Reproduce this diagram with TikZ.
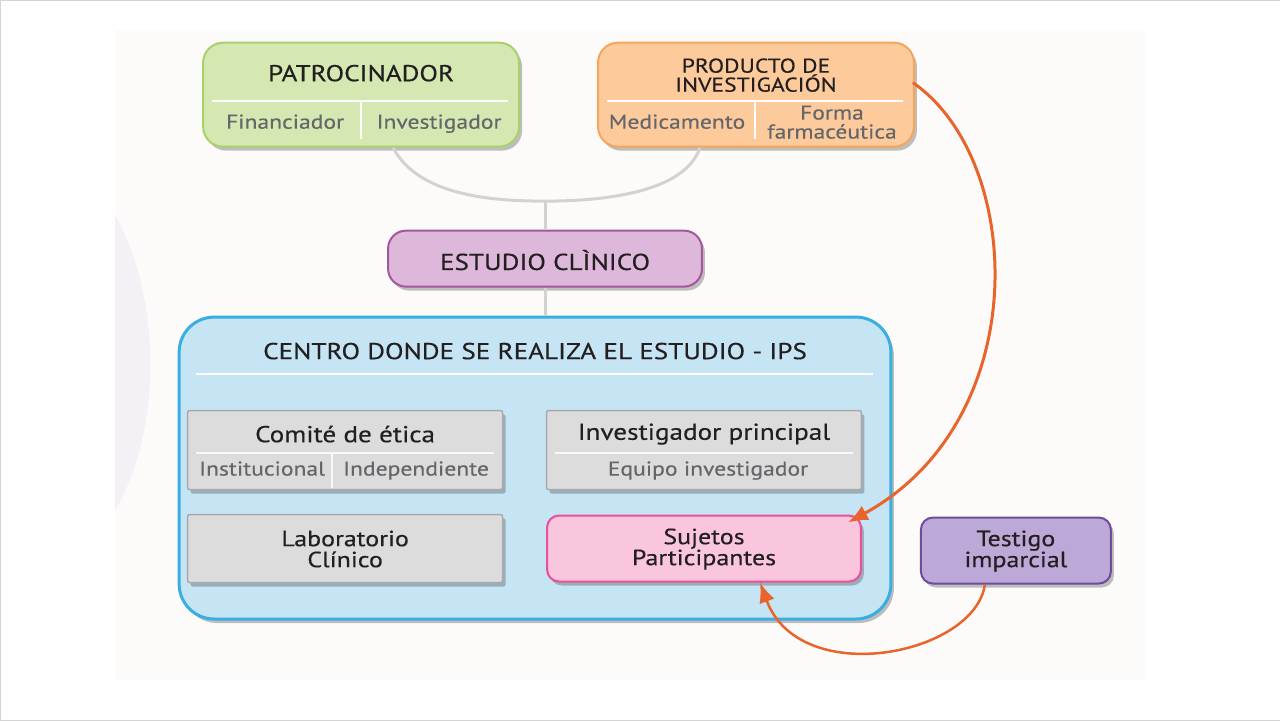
\documentclass[tikz,border=0pt]{standalone}
\usepackage{fontspec}
\setmainfont{PT Sans}[FakeStretch=1.18,FakeBold=0.4]
\usepackage{tikz}
\usetikzlibrary{arrows.meta,shadows,calc}
\definecolor{paper}{HTML}{FCFBF9}
\definecolor{frame}{HTML}{D4D4D4}
\definecolor{lens}{HTML}{F4F0F6}
\definecolor{txtdark}{HTML}{231F20}
\definecolor{txtgray}{HTML}{65666A}
\definecolor{patfill}{HTML}{D5E8B2}
\definecolor{patline}{HTML}{A9D16B}
\definecolor{prodfill}{HTML}{FDCB9B}
\definecolor{prodline}{HTML}{F6A55C}
\definecolor{estfill}{HTML}{DDB8DA}
\definecolor{estline}{HTML}{A5569F}
\definecolor{ctrfill}{HTML}{C5E4F4}
\definecolor{ctrline}{HTML}{3BAEE1}
\definecolor{grayfill}{HTML}{DCDCDC}
\definecolor{grayline}{HTML}{A9A9A9}
\definecolor{sujfill}{HTML}{F9C6DE}
\definecolor{sujline}{HTML}{EC4F97}
\definecolor{tesfill}{HTML}{BCA9D7}
\definecolor{tesline}{HTML}{6B4D9D}
\definecolor{linkgray}{HTML}{D2D2D2}
\definecolor{hookorange}{HTML}{E9642B}

\begin{document}
\begin{tikzpicture}[x=1pt,y=-1pt,
  box/.style={line width=2pt,inner sep=0pt,align=center,
    drop shadow={shadow xshift=3pt,shadow yshift=-4pt,opacity=0.35,fill=black!70}},
  title/.style={font=\fontsize{23}{23}\selectfont,text=txtdark,align=center},
  sub/.style={font=\fontsize{20}{20}\selectfont,text=txtgray,align=center,text height=15pt,text depth=4pt},
  sep/.style={draw=white,line width=1.5pt},
  link/.style={draw=linkgray,line width=3pt},
  hook/.style={draw=hookorange,line width=3pt,-{Latex[length=20pt,width=16pt]}}]
% page
\path[fill=white,draw=frame] (0,0) rectangle (1280,720);
\fill[paper] (115,30) rectangle (1145,680);
\fill[lens] (115,215) .. controls (162,300) and (162,430) .. (115,510) -- cycle;
\useasboundingbox (0,0) rectangle (1280,720);

% sponsor and product
\node[box,draw=patline,fill=patfill,rounded corners=20pt,minimum width=316pt,minimum height=104pt] (pat) at (361,94.5) {};
\node[title] (patT) at (361,73) {PATROCINADOR};
\draw[sep] (212,101) -- (508,101);
\draw[sep] (361,101) -- (361,139);
\node[sub] (patA) at (285,123) {Financiador};
\node[sub] (patB) at (439,123) {Investigador};

\node[box,draw=prodline,fill=prodfill,rounded corners=20pt,minimum width=316pt,minimum height=104pt] (prod) at (756,94.5) {};
\node[title,font=\fontsize{20}{19}\selectfont] (prodT) at (756,75) {PRODUCTO DE\\INVESTIGACIÓN};
\draw[sep] (607,101) -- (903,101);
\draw[sep] (755,101) -- (755,139);
\node[sub] (prodA) at (677,123) {Medicamento};
\node[sub,font=\fontsize{20}{19}\selectfont,text height=,text depth=] (prodB) at (832,122) {Forma\\farmacéutica};

% study
\coordinate (join) at (545,201);
\draw[link] ([xshift=32pt]pat.south) .. controls (418,195) and (490,201) .. (join)
  .. controls (605,201) and (685,192) .. ([xshift=-56pt]prod.south);
\node[box,draw=estline,fill=estfill,rounded corners=18pt,minimum width=314pt,minimum height=56pt] (est) at (545,258.5) {};
\node[title] (estT) at (545,260) {ESTUDIO CLÌNICO};
\draw[link] (join) -- (est.north);

% site
\node[box,draw=ctrline,fill=ctrfill,line width=3pt,rounded corners=35pt,minimum width=712pt,minimum height=302pt] (ctr) at (535,468) {};
\draw[link] (est.south) -- (est.south |- ctr.north);
\node[title] (ctrT) at (535,351) {CENTRO DONDE SE REALIZA EL ESTUDIO - IPS};
\draw[sep] (196,374) -- (873,374);

\node[box,draw=grayline,fill=grayfill,line width=1.5pt,rounded corners=2pt,minimum width=315pt,minimum height=79pt] (cet) at (345,450) {};
\node[title] (cetT) at (345,434) {Comité de ética};
\draw[sep,draw=white!80!grayfill] (196,453) -- (494,453);
\draw[sep,draw=white!80!grayfill] (332,453) -- (332,488);
\node[sub] (cetA) at (262,470) {Institucional};
\node[sub] (cetB) at (416,470) {Independiente};

\node[box,draw=grayline,fill=grayfill,line width=1.5pt,rounded corners=2pt,minimum width=315pt,minimum height=79pt] (inv) at (704,450) {};
\node[title] (invT) at (704,434) {Investigador principal};
\draw[sep,draw=white!80!grayfill] (555,453) -- (853,453);
\node[sub] (invA) at (708,470) {Equipo investigador};

\node[box,draw=grayline,fill=grayfill,line width=1.5pt,rounded corners=2pt,minimum width=315pt,minimum height=68pt] (lab) at (345,548.5) {};
\node[title,font=\fontsize{22}{21}\selectfont] (labT) at (345,549) {Laboratorio\\Clínico};

\node[box,draw=sujline,fill=sujfill,rounded corners=12pt,minimum width=314pt,minimum height=66pt] (suj) at (704,548.5) {};
\node[title,font=\fontsize{22}{21}\selectfont] (sujT) at (704,549) {Sujetos\\Participantes};

% witness
\node[box,draw=tesline,fill=tesfill,rounded corners=12pt,minimum width=190pt,minimum height=66pt] (tes) at (1016,550.5) {};
\node[title,font=\fontsize{22}{21}\selectfont] (tesT) at (1016,551) {Testigo\\imparcial};

% orange arrows
\draw[hook] ([xshift=-2pt,yshift=12pt]prod.east) .. controls (1025,160) and (1035,420) .. ([xshift=-14pt,yshift=-8pt]suj.north east);
\draw[hook,line width=2.5pt] ([xshift=-31pt]tes.south) .. controls (975,655) and (800,690) .. ([xshift=56pt]suj.south);
\end{tikzpicture}
\end{document}
